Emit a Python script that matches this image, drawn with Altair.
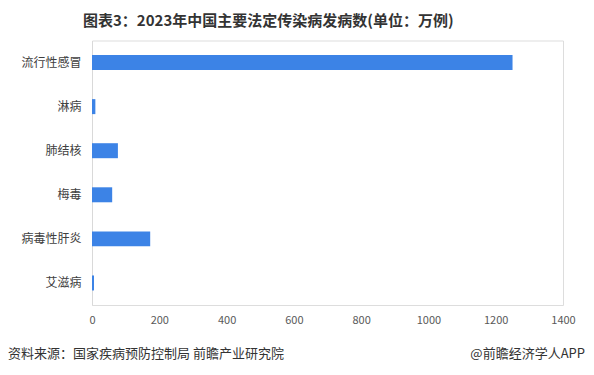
import altair as alt
import pandas as pd

categories = ["流行性感冒", "淋病", "肺结核", "梅毒", "病毒性肝炎", "艾滋病"]
values = [1250, 10, 77, 60, 173, 6]
x_ticks = [0, 200, 400, 600, 800, 1000, 1200, 1400]
title_text = "图表3：2023年中国主要法定传染病发病数(单位：万例)"
source_text = ["资料来源：国家疾病预防控制局 前瞻产业研究院"]
brand_text = ["@前瞻经济学人APP"]

FONT = "Noto Sans CJK SC"

df = pd.DataFrame({"cat": categories, "val": values})

bars = alt.Chart(df).mark_bar(color="#3c83e6").encode(
    x=alt.X("val:Q", scale=alt.Scale(domain=[0, 1400], nice=False),
            axis=alt.Axis(values=x_ticks, format="d", title=None, grid=False, domain=False,
                          ticks=False, labelFlush=False,
                          labelFont=FONT, labelFontSize=11, labelColor="#595959",
                          labelPadding=9)),
    y=alt.Y("cat:N", sort=categories,
            scale=alt.Scale(paddingInner=0.66, paddingOuter=0.33),
            axis=alt.Axis(title=None, ticks=False, domain=True, domainColor="#d9d9d9",
                          labelFont=FONT, labelFontSize=12, labelColor="#404040",
                          labelPadding=11)),
)

src = alt.Chart(pd.DataFrame({"t": source_text})).mark_text(
    align="left", baseline="middle", font=FONT, fontSize=13, color="#333333"
).encode(text="t:N", x=alt.value(-84), y=alt.value(313.5))

brand = alt.Chart(pd.DataFrame({"t": brand_text})).mark_text(
    align="right", baseline="middle", font=FONT, fontSize=13, color="#333333"
).encode(text="t:N", x=alt.value(493), y=alt.value(313.5))

chart = alt.layer(bars, src, brand).properties(
    width=471, height=264.5,
    autosize=alt.AutoSizeParams(type="none"),
    padding={"left": 84, "top": 32.5, "right": 23, "bottom": 60},
    title=alt.TitleParams(title_text, anchor="start", frame="group", dx=-9, offset=12,
                          font=FONT, fontSize=15, fontWeight="bold", color="#333333"),
).configure_view(stroke=None).configure(background="white")

chart.save("out.html", embed_options={"renderer": "svg", "actions": False})
